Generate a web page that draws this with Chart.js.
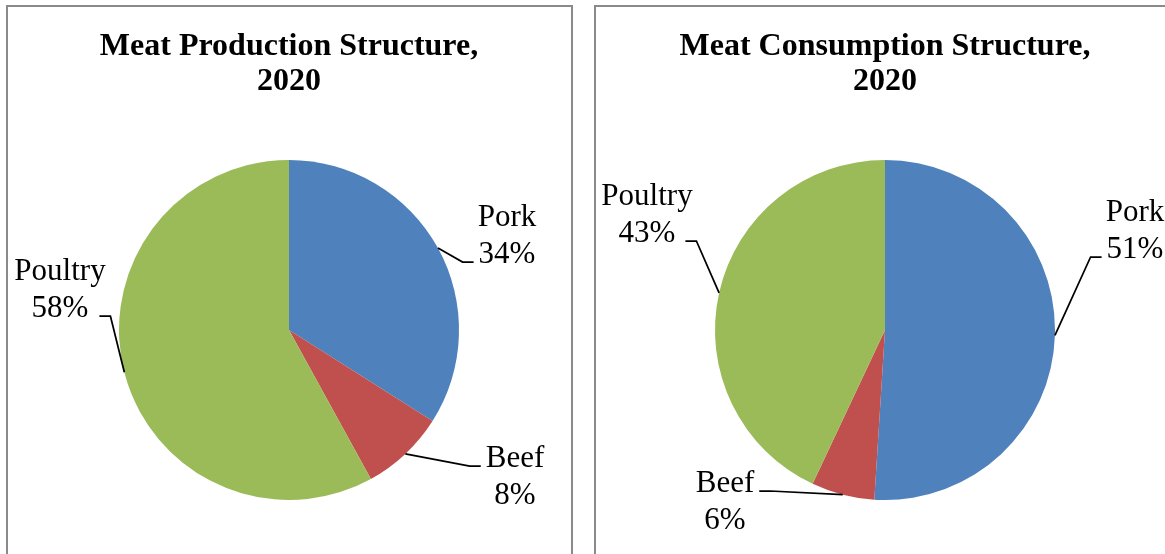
<!DOCTYPE html>
<html>
<head>
<meta charset="utf-8">
<script src="https://cdn.jsdelivr.net/npm/chart.js@4"></script>
<style>
  html, body { margin: 0; padding: 0; background: #ffffff; overflow: hidden; }
  body { width: 1165px; height: 554px; position: relative; }
  .panel { position: absolute; top: 5px; height: 600px; border: 2px solid #8a8a8a; box-sizing: border-box; background: #fff; }
  #panelLeft { left: 6px; width: 567px; }
  #panelRight { left: 594px; width: 620px; }
  canvas { position: absolute; top: 0; }
  #prodChart { left: 0; }
  #consChart { left: 583px; }
</style>
</head>
<body>
<div class="panel" id="panelLeft"></div>
<div class="panel" id="panelRight"></div>
<canvas id="prodChart" width="582" height="554"></canvas>
<canvas id="consChart" width="582" height="554"></canvas>
<script>
// Meat categories and shares (%) for 2020
const categories = ['Pork', 'Beef', 'Poultry'];
const productionShares = [34, 8, 58];
const consumptionShares = [51, 6, 43];
const sliceColors = ['#4F81BD', '#C0504D', '#9BBB59'];

const productionTitle = ['Meat Production Structure,', '2020'];
const consumptionTitle = ['Meat Consumption Structure,', '2020'];

const SERIF = "'Liberation Serif', 'Times New Roman', serif";

// Title, data labels and leader lines drawn straight onto the chart canvas
const pieLabelsPlugin = {
  id: 'pieLabels',
  afterDraw(chart, args, opts) {
    const ctx = chart.ctx;
    const meta = chart.getDatasetMeta(0);
    const data = chart.data.datasets[0].data;
    const total = data.reduce((a, b) => a + b, 0);
    const first = meta.data[0];
    const cx = first.x, cy = first.y;

    ctx.save();
    // title
    ctx.fillStyle = '#000';
    ctx.textAlign = 'center';
    ctx.textBaseline = 'alphabetic';
    ctx.font = 'bold 32px ' + SERIF;
    opts.title.forEach((line, i) => {
      ctx.fillText(line, cx, opts.titleTop + i * 35);
    });

    // slice labels
    ctx.font = '31px ' + SERIF;
    const lineGap = 37;
    meta.data.forEach((arc, i) => {
      const p = opts.placement[i];
      const pct = Math.round(data[i] / total * 100) + '%';
      const lines = [chart.data.labels[i], pct];
      const lx = cx + p.dx;
      const ly = cy + p.dy;
      lines.forEach((t, k) => ctx.fillText(t, lx, ly + k * lineGap));

      // leader line from the middle of the arc edge to the label
      const mid = (arc.startAngle + arc.endAngle) / 2;
      const r = arc.outerRadius;
      const sx = arc.x + Math.cos(mid) * r;
      const sy = arc.y + Math.sin(mid) * r;
      const w = ctx.measureText(lines[p.line]).width;
      const ay = ly + p.line * lineGap - 1;
      let endX, elbowX;
      if (p.side === 'left') {
        endX = lx - w / 2 - 5;
        elbowX = endX - 11;
      } else {
        endX = lx + w / 2 + (p.gap || 5);
        elbowX = endX + 11;
      }
      ctx.strokeStyle = '#000';
      ctx.lineWidth = 1.75;
      ctx.beginPath();
      ctx.moveTo(sx, sy);
      ctx.lineTo(elbowX, ay);
      ctx.lineTo(endX, ay);
      ctx.stroke();
    });
    ctx.restore();
  }
};

function makePie(id, values, title, padding, placement) {
  return new Chart(document.getElementById(id), {
    type: 'pie',
    data: {
      labels: categories,
      datasets: [{
        data: values,
        backgroundColor: sliceColors,
        borderWidth: 0,
        hoverOffset: 0
      }]
    },
    options: {
      responsive: false,
      animation: false,
      devicePixelRatio: 1,
      events: [],
      layout: { padding: padding },
      plugins: {
        legend: { display: false },
        tooltip: { enabled: false },
        title: { display: false },
        pieLabels: { title: title, titleTop: 55, placement: placement }
      }
    },
    plugins: [pieLabelsPlugin]
  });
}

makePie('prodChart', productionShares, productionTitle,
  { left: 119, right: 123, top: 160, bottom: 54 },
  [
    { dx: 218, dy: -104, line: 1, side: 'left' },
    { dx: 226, dy: 137, line: 0, side: 'left' },
    { dx: -229, dy: -50, line: 1, side: 'right', gap: 11 }
  ]);

makePie('consChart', consumptionShares, consumptionTitle,
  { left: 132, right: 110, top: 160, bottom: 54 },
  [
    { dx: 250, dy: -109, line: 1, side: 'left' },
    { dx: -160, dy: 162, line: 0, side: 'right' },
    { dx: -238, dy: -125, line: 1, side: 'right', gap: 10 }
  ]);
</script>
</body>
</html>
